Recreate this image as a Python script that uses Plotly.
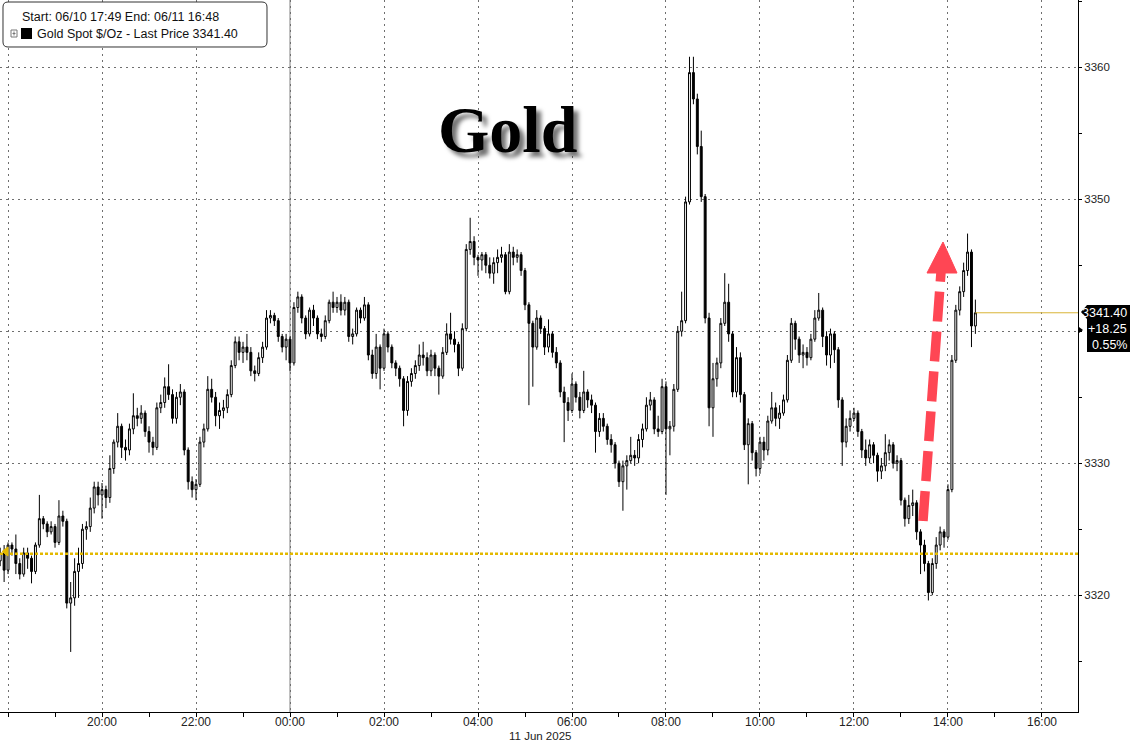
import pandas as pd
import plotly.graph_objects as go

# ---------------- data (5-minute candles, Gold Spot $/Oz) ----------------
start_time = "2025-06-10 17:50"
n_candles = 250

opens = [
    3322.6, 3323.2, 3321.9, 3323.8, 3323.5, 3322.4, 3321.6, 3323.2, 3322.8, 3321.8,
    3323.8, 3325.8, 3325.4, 3324.8, 3325.2, 3324.0, 3326.0, 3325.6, 3319.4, 3319.8,
    3321.8, 3322.4, 3325.0, 3325.2, 3326.6, 3328.2, 3327.6, 3328.0, 3327.4, 3329.6,
    3331.6, 3332.8, 3331.2, 3331.0, 3332.6, 3333.6, 3333.4, 3333.8, 3332.4, 3331.6,
    3331.2, 3334.2, 3334.6, 3335.8, 3335.2, 3333.4, 3335.0, 3335.4, 3331.0, 3328.6,
    3328.0, 3328.4, 3331.6, 3332.6, 3335.6, 3335.0, 3333.6, 3334.0, 3334.2, 3335.2,
    3337.4, 3339.2, 3338.4, 3338.8, 3338.4, 3337.0, 3336.8, 3338.0, 3338.8, 3341.0,
    3341.2, 3340.8, 3339.6, 3338.8, 3339.4, 3337.6, 3341.8, 3342.6, 3341.0, 3339.8,
    3341.6, 3341.0, 3339.8, 3339.6, 3340.8, 3342.2, 3341.8, 3342.2, 3341.6, 3342.2,
    3339.6, 3339.8, 3341.6, 3341.0, 3342.0, 3338.2, 3336.8, 3338.8, 3337.2, 3339.8,
    3338.8, 3337.6, 3337.2, 3336.4, 3334.0, 3336.2, 3336.8, 3337.4, 3338.2, 3338.0,
    3337.0, 3338.2, 3337.2, 3336.6, 3338.4, 3339.8, 3339.4, 3339.0, 3337.2, 3340.2,
    3346.2, 3346.8, 3345.6, 3345.4, 3345.8, 3345.0, 3344.4, 3345.2, 3345.6, 3345.8,
    3343.0, 3346.0, 3345.6, 3345.8, 3344.6, 3342.0, 3340.6, 3338.8, 3341.0, 3340.2,
    3338.8, 3339.8, 3338.4, 3337.6, 3335.4, 3334.6, 3334.0, 3336.0, 3335.0, 3334.0,
    3335.4, 3334.8, 3334.4, 3332.4, 3333.4, 3332.8, 3331.8, 3331.4, 3330.0, 3328.6,
    3329.8, 3330.2, 3330.6, 3330.4, 3331.8, 3332.6, 3334.4, 3334.8, 3332.6, 3332.4,
    3335.8, 3332.6, 3332.8, 3335.6, 3340.0, 3340.8, 3349.8, 3359.6, 3357.6, 3354.0,
    3350.2, 3341.0, 3334.2, 3336.4, 3337.6, 3340.6, 3342.2, 3339.8, 3335.4, 3338.0,
    3335.2, 3331.4, 3333.0, 3330.8, 3329.6, 3331.6, 3331.0, 3333.2, 3334.2, 3333.4,
    3333.8, 3334.8, 3337.8, 3340.6, 3339.4, 3338.2, 3338.4, 3338.0, 3339.4, 3341.0,
    3341.6, 3339.6, 3338.2, 3339.8, 3338.6, 3334.8, 3331.6, 3332.8, 3333.4, 3333.8,
    3332.4, 3331.0, 3330.4, 3331.4, 3330.6, 3329.4, 3329.8, 3330.8, 3331.4, 3330.0,
    3330.2, 3327.2, 3325.8, 3326.8, 3327.0, 3324.8, 3323.8, 3322.4, 3320.2, 3322.4,
    3323.8, 3324.8, 3324.4, 3328.0, 3337.8, 3341.6, 3343.0, 3344.6, 3346.0, 3340.4,
]

highs = [
    3323.6, 3323.8, 3324.0, 3324.0, 3324.6, 3322.8, 3323.6, 3323.6, 3323.0, 3324.0,
    3327.6, 3326.0, 3325.6, 3325.6, 3325.4, 3327.2, 3326.4, 3325.8, 3321.0, 3322.8,
    3323.6, 3325.4, 3325.6, 3327.4, 3328.6, 3328.6, 3328.5, 3328.3, 3330.6, 3331.8,
    3333.8, 3333.0, 3331.8, 3333.0, 3335.3, 3334.2, 3334.4, 3334.0, 3332.8, 3332.0,
    3334.6, 3335.2, 3336.5, 3337.5, 3335.6, 3335.4, 3336.0, 3335.6, 3331.2, 3329.0,
    3328.8, 3332.0, 3333.0, 3336.6, 3336.4, 3335.4, 3334.6, 3334.8, 3335.6, 3337.8,
    3339.6, 3339.6, 3339.2, 3339.8, 3338.8, 3337.4, 3338.4, 3339.2, 3341.6, 3341.6,
    3341.4, 3341.0, 3339.8, 3339.8, 3339.6, 3342.2, 3343.0, 3342.8, 3341.2, 3341.8,
    3342.0, 3341.2, 3340.2, 3341.2, 3342.4, 3343.0, 3342.6, 3342.8, 3342.6, 3342.4,
    3340.2, 3341.8, 3341.8, 3342.6, 3342.2, 3338.6, 3339.8, 3339.0, 3340.2, 3340.0,
    3339.0, 3337.8, 3337.4, 3336.6, 3336.6, 3337.2, 3337.8, 3339.0, 3339.2, 3338.4,
    3338.6, 3338.4, 3337.4, 3338.8, 3340.6, 3341.4, 3340.0, 3339.2, 3340.6, 3346.6,
    3348.6, 3347.2, 3345.8, 3346.0, 3346.0, 3345.6, 3345.6, 3346.2, 3346.4, 3346.0,
    3346.6, 3346.4, 3346.2, 3346.0, 3344.8, 3342.2, 3340.8, 3341.6, 3341.2, 3340.4,
    3340.9, 3340.0, 3338.8, 3337.8, 3335.8, 3335.0, 3336.8, 3336.2, 3335.4, 3337.0,
    3335.6, 3335.2, 3334.6, 3333.8, 3333.8, 3333.0, 3332.2, 3331.6, 3330.2, 3330.2,
    3330.6, 3332.0, 3331.0, 3332.2, 3333.0, 3335.0, 3335.4, 3335.0, 3333.6, 3336.4,
    3336.2, 3333.2, 3336.0, 3340.4, 3343.0, 3350.2, 3360.8, 3360.8, 3358.0, 3355.2,
    3350.4, 3341.4, 3337.6, 3338.0, 3341.0, 3344.4, 3343.6, 3340.0, 3338.8, 3338.4,
    3335.4, 3333.4, 3333.2, 3331.0, 3332.0, 3332.0, 3333.6, 3335.4, 3334.6, 3334.4,
    3335.2, 3338.2, 3341.0, 3340.8, 3339.6, 3339.0, 3338.8, 3339.8, 3341.6, 3342.9,
    3341.8, 3340.0, 3340.2, 3340.0, 3338.8, 3335.0, 3333.4, 3334.0, 3334.2, 3334.0,
    3332.6, 3331.8, 3331.8, 3331.6, 3330.8, 3330.4, 3332.2, 3331.8, 3331.6, 3330.6,
    3330.4, 3327.4, 3327.6, 3328.0, 3327.2, 3325.0, 3324.2, 3322.6, 3322.8, 3324.4,
    3325.2, 3325.0, 3328.4, 3338.2, 3342.0, 3343.4, 3345.2, 3347.4, 3346.2, 3342.4,
]

lows = [
    3322.2, 3321.0, 3321.6, 3323.0, 3321.6, 3321.2, 3321.4, 3322.0, 3320.9, 3321.6,
    3323.6, 3325.0, 3324.4, 3324.6, 3323.6, 3323.8, 3325.2, 3319.0, 3315.7, 3319.2,
    3319.8, 3322.0, 3324.2, 3324.8, 3326.2, 3326.8, 3325.8, 3326.6, 3327.0, 3329.2,
    3331.2, 3330.4, 3330.2, 3330.6, 3332.2, 3332.8, 3333.0, 3332.0, 3330.8, 3330.6,
    3331.0, 3333.8, 3334.2, 3334.8, 3333.0, 3333.0, 3334.4, 3330.6, 3328.0, 3327.4,
    3327.2, 3328.2, 3331.2, 3332.4, 3334.6, 3332.8, 3332.6, 3333.4, 3333.8, 3335.0,
    3337.2, 3337.8, 3337.6, 3337.8, 3336.6, 3336.2, 3336.6, 3337.6, 3338.6, 3340.6,
    3340.4, 3339.2, 3338.4, 3337.8, 3337.0, 3337.4, 3341.4, 3340.6, 3339.4, 3339.6,
    3340.4, 3339.4, 3339.2, 3339.4, 3340.6, 3341.4, 3341.4, 3341.2, 3341.2, 3339.2,
    3339.0, 3339.6, 3340.6, 3340.8, 3337.8, 3336.4, 3336.4, 3335.6, 3337.0, 3338.4,
    3337.2, 3336.6, 3335.8, 3332.8, 3333.6, 3335.8, 3336.4, 3337.0, 3337.4, 3336.6,
    3336.6, 3336.6, 3335.2, 3336.4, 3338.2, 3339.0, 3338.4, 3336.6, 3337.0, 3340.0,
    3345.8, 3345.0, 3344.2, 3344.6, 3344.4, 3344.0, 3343.6, 3344.4, 3345.2, 3342.8,
    3342.8, 3345.0, 3345.2, 3344.2, 3341.6, 3334.4, 3335.8, 3338.6, 3339.8, 3338.2,
    3338.4, 3338.0, 3337.2, 3335.0, 3331.6, 3333.2, 3333.8, 3334.6, 3333.4, 3333.8,
    3334.2, 3333.8, 3330.8, 3332.0, 3332.4, 3331.4, 3330.8, 3329.6, 3328.2, 3326.4,
    3328.0, 3330.0, 3329.8, 3330.0, 3331.2, 3332.4, 3334.0, 3332.2, 3332.0, 3332.2,
    3327.6, 3330.6, 3332.4, 3335.4, 3339.6, 3340.6, 3349.6, 3357.2, 3353.4, 3349.8,
    3340.6, 3332.8, 3332.0, 3335.8, 3337.2, 3340.4, 3339.2, 3335.0, 3335.0, 3334.6,
    3331.0, 3328.4, 3330.2, 3329.0, 3329.2, 3330.2, 3330.6, 3333.0, 3332.8, 3332.6,
    3333.6, 3334.6, 3337.6, 3338.6, 3337.6, 3337.2, 3337.4, 3337.8, 3339.2, 3340.8,
    3338.8, 3337.4, 3337.2, 3337.6, 3334.2, 3329.8, 3331.2, 3332.4, 3333.2, 3332.0,
    3330.4, 3329.8, 3330.0, 3330.0, 3328.6, 3328.8, 3329.4, 3330.2, 3329.6, 3329.4,
    3326.8, 3325.2, 3325.4, 3326.0, 3324.2, 3321.6, 3321.8, 3319.6, 3320.0, 3322.0,
    3323.4, 3323.6, 3324.2, 3327.8, 3337.6, 3341.2, 3342.6, 3344.2, 3338.8, 3339.8,
]

closes = [
    3323.2, 3321.9, 3323.8, 3323.5, 3322.4, 3321.6, 3323.2, 3322.8, 3321.8, 3323.8,
    3325.8, 3325.4, 3324.8, 3325.2, 3324.0, 3326.0, 3325.6, 3319.4, 3319.8, 3321.8,
    3322.4, 3325.0, 3325.2, 3326.6, 3328.2, 3327.6, 3328.0, 3327.4, 3329.6, 3331.6,
    3332.8, 3331.2, 3331.0, 3332.6, 3333.6, 3333.4, 3333.8, 3332.4, 3331.6, 3331.2,
    3334.2, 3334.6, 3335.8, 3335.2, 3333.4, 3335.0, 3335.4, 3331.0, 3328.6, 3328.0,
    3328.4, 3331.6, 3332.6, 3335.6, 3335.0, 3333.6, 3334.0, 3334.2, 3335.2, 3337.4,
    3339.2, 3338.4, 3338.8, 3338.4, 3337.0, 3336.8, 3338.0, 3338.8, 3341.0, 3341.2,
    3340.8, 3339.6, 3338.8, 3339.4, 3337.6, 3341.8, 3342.6, 3341.0, 3339.8, 3341.6,
    3341.0, 3339.8, 3339.6, 3340.8, 3342.2, 3341.8, 3342.2, 3341.6, 3342.2, 3339.6,
    3339.8, 3341.6, 3341.0, 3342.0, 3338.2, 3336.8, 3338.8, 3337.2, 3339.8, 3338.8,
    3337.6, 3337.2, 3336.4, 3334.0, 3336.2, 3336.8, 3337.4, 3338.2, 3338.0, 3337.0,
    3338.2, 3337.2, 3336.6, 3338.4, 3339.8, 3339.4, 3339.0, 3337.2, 3340.2, 3346.2,
    3346.8, 3345.6, 3345.4, 3345.8, 3345.0, 3344.4, 3345.2, 3345.6, 3345.8, 3343.0,
    3346.0, 3345.6, 3345.8, 3344.6, 3342.0, 3340.6, 3338.8, 3341.0, 3340.2, 3338.8,
    3339.8, 3338.4, 3337.6, 3335.4, 3334.6, 3334.0, 3336.0, 3335.0, 3334.0, 3335.4,
    3334.8, 3334.4, 3332.4, 3333.4, 3332.8, 3331.8, 3331.4, 3330.0, 3328.6, 3329.8,
    3330.2, 3330.6, 3330.4, 3331.8, 3332.6, 3334.4, 3334.8, 3332.6, 3332.4, 3335.8,
    3332.6, 3332.8, 3335.6, 3340.0, 3340.8, 3349.8, 3359.6, 3357.6, 3354.0, 3350.2,
    3341.0, 3334.2, 3336.4, 3337.6, 3340.6, 3342.2, 3339.8, 3335.4, 3338.0, 3335.2,
    3331.4, 3333.0, 3330.8, 3329.6, 3331.6, 3331.0, 3333.2, 3334.2, 3333.4, 3333.8,
    3334.8, 3337.8, 3340.6, 3339.4, 3338.2, 3338.4, 3338.0, 3339.4, 3341.0, 3341.6,
    3339.6, 3338.2, 3339.8, 3338.6, 3334.8, 3331.6, 3332.8, 3333.4, 3333.8, 3332.4,
    3331.0, 3330.4, 3331.4, 3330.6, 3329.4, 3329.8, 3330.8, 3331.4, 3330.0, 3330.2,
    3327.2, 3325.8, 3326.8, 3327.0, 3324.8, 3323.8, 3322.4, 3320.2, 3322.4, 3323.8,
    3324.8, 3324.4, 3328.0, 3337.8, 3341.6, 3343.0, 3344.6, 3346.0, 3340.4, 3341.4,
]

last_price = 3341.40
net_change = 18.25
pct_change = 0.55
prev_close = 3323.15

x_tick_times = ["2025-06-10 18:00", "2025-06-10 20:00", "2025-06-10 22:00",
                "2025-06-11 00:00", "2025-06-11 02:00", "2025-06-11 04:00",
                "2025-06-11 06:00", "2025-06-11 08:00", "2025-06-11 10:00",
                "2025-06-11 12:00", "2025-06-11 14:00", "2025-06-11 16:00"]
x_tick_text = ["", "20:00", "22:00", "00:00", "02:00", "04:00", "06:00",
               "08:00", "10:00", "12:00", "14:00", "16:00"]
x_minor_times = ["2025-06-10 19:00", "2025-06-10 21:00", "2025-06-10 23:00",
                 "2025-06-11 01:00", "2025-06-11 03:00", "2025-06-11 05:00",
                 "2025-06-11 07:00", "2025-06-11 09:00", "2025-06-11 11:00",
                 "2025-06-11 13:00", "2025-06-11 15:00"]
y_tick_vals = [3320, 3330, 3340, 3350, 3360]
y_tick_text = ["3320", "3330", "", "3350", "3360"]   # 3340 hidden behind the price tag
y_minor_vals = [3315, 3325, 3335, 3345, 3355, 3365]

times = pd.date_range(start_time, periods=n_candles, freq="5min")

# ---------------- layout helpers (pixel -> paper) ----------------
W, H = 1130, 744
ML, MR, MT, MB = 0, 52, 0, 32
PW, PH = W - ML - MR, H - MT - MB


def px(x):
    return (x - ML) / PW


def py(y):
    return 1 - (y - MT) / PH


def path(points, close=True):
    s = "M " + " L ".join(f"{px(a):.5f},{py(b):.5f}" for a, b in points)
    return s + (" Z" if close else "")


def rounded_rect(x0, y0, x1, y1, r):
    p = lambda a, b: f"{px(a):.5f},{py(b):.5f}"
    return (f"M {p(x0 + r, y0)} L {p(x1 - r, y0)} Q {p(x1, y0)} {p(x1, y0 + r)} "
            f"L {p(x1, y1 - r)} Q {p(x1, y1)} {p(x1 - r, y1)} "
            f"L {p(x0 + r, y1)} Q {p(x0, y1)} {p(x0, y1 - r)} "
            f"L {p(x0, y0 + r)} Q {p(x0, y0)} {p(x0 + r, y0)} Z")


FONT = "Liberation Sans, Arial, sans-serif"

fig = go.Figure()
fig.add_trace(go.Candlestick(
    x=times, open=opens, high=highs, low=lows, close=closes,
    increasing=dict(line=dict(color="#000000", width=1), fillcolor="#ffffff"),
    decreasing=dict(line=dict(color="#000000", width=1), fillcolor="#000000"),
    whiskerwidth=0, showlegend=False, hoverinfo="skip",
))

shapes = []
# day separator at 00:00
shapes.append(dict(type="line", xref="x", yref="paper", x0="2025-06-11 00:00",
                   x1="2025-06-11 00:00", y0=0, y1=1,
                   line=dict(color="#808080", width=1), layer="below"))
# previous close dotted line
shapes.append(dict(type="line", xref="paper", yref="y", x0=0, x1=1,
                   y0=prev_close, y1=prev_close,
                   line=dict(color="#E3B900", width=2.5, dash="3px,2px")))
# last price line
shapes.append(dict(type="line", xref="x", yref="y", x0=times[-1], x1="2025-06-11 16:46",
                   y0=last_price, y1=last_price,
                   line=dict(color="#D9B437", width=1)))
# yellow marker on left
shapes.append(dict(type="path", xref="paper", yref="paper",
                   path=path([(2, 551.5), (8, 547), (8, 556)]),
                   fillcolor="#E3B900", line=dict(color="#E3B900", width=1)))
# legend box
shapes.append(dict(type="path", xref="paper", yref="paper",
                   path=rounded_rect(3, 2, 267, 47, 5),
                   fillcolor="#ffffff", line=dict(color="#333333", width=1)))
# expand icon
shapes.append(dict(type="rect", xref="paper", yref="paper",
                   x0=px(11), x1=px(17), y0=py(30), y1=py(37),
                   line=dict(color="#777777", width=1), fillcolor="#ffffff"))
shapes.append(dict(type="line", xref="paper", yref="paper",
                   x0=px(12.5), x1=px(15.5), y0=py(33.5), y1=py(33.5),
                   line=dict(color="#777777", width=1)))
shapes.append(dict(type="line", xref="paper", yref="paper",
                   x0=px(14), x1=px(14), y0=py(31.5), y1=py(35.5),
                   line=dict(color="#777777", width=1)))
# black legend square
shapes.append(dict(type="rect", xref="paper", yref="paper",
                   x0=px(21), x1=px(32), y0=py(28), y1=py(39),
                   line=dict(color="#000000", width=0), fillcolor="#000000"))
# last price tag
shapes.append(dict(type="path", xref="paper", yref="paper",
                   path=path([(1081, 312), (1087, 305), (1140, 305), (1140, 352),
                              (1087, 352), (1087, 319)]),
                   fillcolor="#000000", line=dict(color="#000000", width=0)))
shapes.append(dict(type="path", xref="paper", yref="paper",
                   path=path([(1079, 327), (1083, 330), (1079, 333)]),
                   fillcolor="#000000", line=dict(color="#000000", width=0)))
# red dashed arrow
shapes.append(dict(type="line", xref="paper", yref="paper",
                   x0=px(923), y0=py(521), x1=px(941), y1=py(272),
                   line=dict(color="#FF4654", width=9.5, dash="30px,10px")))
shapes.append(dict(type="path", xref="paper", yref="paper",
                   path=path([(943, 242), (927, 273), (957, 273)]),
                   fillcolor="#FF4654", line=dict(color="#FF4654", width=1)))

annotations = []
annotations.append(dict(xref="paper", yref="paper", x=px(20), y=py(17),
                        text="Start: 06/10 17:49 End: 06/11 16:48", showarrow=False,
                        xanchor="left", yanchor="middle",
                        font=dict(family=FONT, size=12.5, color="#111111")))
annotations.append(dict(xref="paper", yref="paper", x=px(35), y=py(34),
                        text="Gold Spot $/Oz - Last Price 3341.40", showarrow=False,
                        xanchor="left", yanchor="middle",
                        font=dict(family=FONT, size=12.5, color="#111111")))
annotations.append(dict(xref="paper", yref="paper", x=px(507), y=py(129),
                        text="<b>Gold</b>", showarrow=False,
                        xanchor="center", yanchor="middle",
                        font=dict(family="Liberation Serif, Times New Roman, serif",
                                  size=66, color="#000000",
                                  shadow="5px 5px 4px rgba(0,0,0,0.55)")))
for yy, txt in [(313, f"{last_price:.2f}"), (329, f"+{net_change:.2f}"),
                (345, f"{pct_change:.2f}%")]:
    annotations.append(dict(xref="paper", yref="paper", x=px(1129), y=py(yy),
                            text=txt, showarrow=False, xanchor="right", yanchor="middle",
                            font=dict(family=FONT, size=12.5, color="#ffffff")))
annotations.append(dict(xref="paper", yref="paper", x=px(540), y=py(736),
                        text="11 Jun 2025", showarrow=False, xanchor="center",
                        yanchor="middle", font=dict(family=FONT, size=11.5, color="#222222")))

fig.update_layout(
    width=W, height=H,
    margin=dict(l=ML, r=MR, t=MT, b=MB, pad=0, autoexpand=False),
    paper_bgcolor="#ffffff", plot_bgcolor="#ffffff",
    shapes=shapes, annotations=annotations,
    showlegend=False,
    xaxis=dict(
        type="date",
        range=["2025-06-10 17:49:45", "2025-06-11 16:46:00"],
        rangeslider=dict(visible=False),
        tickmode="array", tickvals=x_tick_times, ticktext=x_tick_text,
        ticks="outside", ticklen=4, tickcolor="#000000",
        ticklabelstandoff=-5,
        showgrid=True, gridcolor="#6f6f6f", gridwidth=1, griddash="2px,4px",
        showline=True, linecolor="#000000", linewidth=1,
        zeroline=False, automargin=False,
        tickfont=dict(family=FONT, size=12, color="#222222"),
        minor=dict(tickmode="array", tickvals=x_minor_times, ticks="outside",
                   ticklen=4, tickcolor="#000000", showgrid=False),
    ),
    yaxis=dict(
        side="right",
        range=[3311.15, 3365.1],
        tickmode="array", tickvals=y_tick_vals, ticktext=y_tick_text,
        ticks="outside", ticklen=3, tickcolor="#000000",
        showgrid=True, gridcolor="#6f6f6f", gridwidth=1, griddash="2px,4px",
        showline=True, linecolor="#000000", linewidth=1,
        zeroline=False, automargin=False,
        tickfont=dict(family=FONT, size=11.5, color="#222222"),
        minor=dict(tickmode="array", tickvals=y_minor_vals, ticks="outside",
                   ticklen=3, tickcolor="#000000", showgrid=False),
    ),
)

fig.write_html("out.html", config={"displayModeBar": False},
               post_script="document.body.style.margin='0';")
